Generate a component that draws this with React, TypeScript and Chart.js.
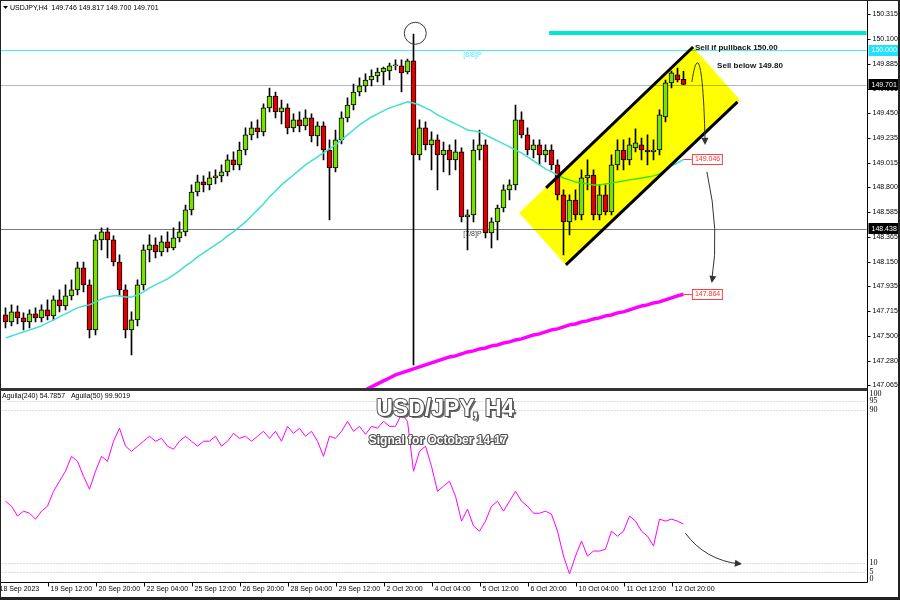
import React, { useEffect, useRef } from 'react';
import { Chart, registerables } from 'chart.js';
Chart.register(...registerables);

// ---------- DATA ----------
const opens = [147.683,147.622,147.710,147.657,147.622,147.692,147.657,147.727,147.675,147.815,
147.762,147.850,147.902,148.095,147.946,147.552,148.340,148.410,148.340,148.147,
147.902,147.552,147.640,147.946,148.253,148.296,148.235,148.323,148.270,148.358,
148.410,148.603,148.760,148.848,148.822,148.883,148.901,148.936,149.041,148.997,
149.128,149.260,149.321,149.286,149.496,149.601,149.461,149.496,149.321,149.391,
149.339,149.409,149.251,149.339,149.128,148.971,149.216,149.409,149.522,149.636,
149.689,149.741,149.776,149.811,149.820,149.864,149.864,149.811,149.908,149.085,
149.321,149.172,149.216,149.085,149.128,149.041,149.111,148.541,148.559,149.128,
149.172,148.401,148.498,148.620,148.778,148.822,149.391,149.260,149.128,149.172,
149.085,149.128,148.997,148.734,148.498,148.690,148.559,148.883,148.909,148.559,
148.734,148.585,148.997,149.128,149.041,149.146,149.172,149.128,149.111,149.128,
149.417,149.715,149.785,149.746];
const highs = [147.745,147.771,147.762,147.701,147.727,147.745,147.771,147.815,147.850,147.902,
147.946,147.990,148.147,148.147,147.990,148.384,148.445,148.445,148.375,148.209,
147.946,147.710,147.990,148.296,148.384,148.358,148.375,148.410,148.445,148.498,
148.646,148.822,148.909,148.901,148.936,148.953,148.997,149.085,149.111,149.198,
149.321,149.374,149.391,149.531,149.671,149.636,149.566,149.531,149.444,149.461,
149.479,149.444,149.374,149.374,149.216,149.303,149.461,149.584,149.706,149.759,
149.794,149.829,149.846,149.855,149.890,149.917,149.917,149.925,150.144,149.391,
149.374,149.286,149.260,149.198,149.172,149.216,149.146,148.603,149.216,149.303,
149.216,148.533,148.646,148.822,148.866,149.522,149.461,149.321,149.216,149.216,
149.172,149.172,149.041,148.778,148.734,148.778,148.953,149.041,148.953,148.822,
148.822,149.085,149.216,149.216,149.233,149.312,149.233,149.260,149.216,149.479,
149.741,149.820,149.846,149.817];
const lows = [147.569,147.587,147.604,147.552,147.569,147.622,147.622,147.640,147.640,147.710,
147.727,147.815,147.858,147.885,147.482,147.508,148.253,148.183,148.112,147.850,
147.482,147.333,147.587,147.902,148.147,148.183,148.200,148.235,148.253,148.323,
148.375,148.559,148.725,148.760,148.778,148.831,148.848,148.901,148.953,148.953,
149.085,149.216,149.233,149.251,149.461,149.409,149.356,149.268,149.286,149.286,
149.303,149.198,149.163,149.041,148.515,148.936,149.181,149.374,149.479,149.601,
149.636,149.689,149.724,149.698,149.741,149.829,149.636,149.794,147.245,149.041,
149.128,148.953,148.778,148.936,148.909,148.953,148.498,148.253,148.498,149.041,
148.358,148.270,148.340,148.585,148.690,148.778,149.233,149.085,149.058,148.997,
149.023,148.953,148.690,148.209,148.384,148.515,148.515,148.778,148.515,148.515,
148.559,148.559,148.953,148.953,148.997,149.111,149.041,148.997,149.041,149.085,
149.374,149.671,149.724,149.700];
const closes = [147.622,147.710,147.657,147.622,147.692,147.657,147.727,147.675,147.815,147.762,
147.850,147.902,148.095,147.946,147.552,148.340,148.410,148.340,148.147,147.902,
147.552,147.640,147.946,148.253,148.296,148.235,148.323,148.270,148.358,148.410,
148.603,148.760,148.848,148.822,148.883,148.901,148.936,149.041,148.997,149.128,
149.260,149.321,149.286,149.496,149.601,149.461,149.496,149.321,149.391,149.339,
149.409,149.251,149.339,149.128,148.971,149.216,149.409,149.522,149.636,149.689,
149.741,149.776,149.811,149.846,149.864,149.873,149.803,149.908,149.085,149.321,
149.172,149.216,149.085,149.128,149.041,149.111,148.541,148.559,149.128,149.172,
148.401,148.498,148.620,148.778,148.822,149.391,149.260,149.128,149.172,149.085,
149.128,148.997,148.734,148.498,148.690,148.559,148.883,148.909,148.559,148.734,
148.585,148.997,149.128,149.041,149.172,149.190,149.128,149.111,149.128,149.435,
149.715,149.803,149.741,149.701];
const maFast = [147.482,147.499,147.517,147.534,147.552,147.569,147.587,147.613,147.640,147.666,
147.692,147.718,147.745,147.762,147.771,147.797,147.823,147.841,147.850,147.850,
147.841,147.841,147.858,147.885,147.920,147.946,147.972,147.999,148.034,148.069,
148.112,148.147,148.191,148.226,148.261,148.296,148.331,148.375,148.410,148.454,
148.498,148.550,148.603,148.655,148.717,148.769,148.822,148.866,148.909,148.953,
148.997,149.032,149.067,149.102,149.137,149.172,149.216,149.260,149.303,149.347,
149.382,149.417,149.444,149.470,149.496,149.514,149.531,149.549,149.540,149.522,
149.496,149.470,149.435,149.409,149.382,149.356,149.330,149.303,149.295,149.286,
149.260,149.233,149.207,149.181,149.155,149.128,149.102,149.067,149.032,148.997,
148.962,148.936,148.909,148.883,148.866,148.848,148.839,148.831,148.822,148.822,
148.831,148.839,148.848,148.857,148.866,148.874,148.883,148.892,148.901,148.918,
148.953,148.988,149.014,149.046];
const maSlowVisible = [146.895,146.930,146.965,147.000,147.026,147.053,147.079,147.105,147.131,147.158,
147.175,147.193,147.210,147.228,147.245,147.263,147.280,147.298,147.315,147.324,
147.342,147.359,147.368,147.385,147.394,147.412,147.420,147.438,147.447,147.464,
147.473,147.491,147.508,147.517,147.534,147.552,147.561,147.578,147.596,147.604,
147.622,147.631,147.648,147.657,147.675,147.683,147.701,147.710,147.727,147.745,
147.762,147.771,147.788,147.797,147.815,147.832,147.850,147.864];
const maSlow: (number | null)[] = [...new Array(opens.length - maSlowVisible.length).fill(null), ...maSlowVisible];
const aguila = [42.3,39.7,34.5,37.1,36.0,32.9,37.1,39.7,47.5,52.8,
58.0,65.8,63.2,55.4,48.6,58.0,65.8,63.2,73.7,80.5,
71.1,68.4,71.1,73.7,76.3,73.7,75.2,71.1,69.5,73.7,
76.3,73.7,71.1,73.7,73.7,76.3,71.1,73.7,77.8,75.2,
76.3,73.7,76.3,78.9,75.2,78.9,73.7,81.5,77.8,80.5,
76.3,78.9,73.7,65.8,76.3,75.2,78.9,84.1,78.9,81.5,
77.3,81.5,80.5,84.1,81.5,81.5,88.0,84.1,58.0,68.4,
71.1,60.6,47.5,50.2,52.8,44.9,31.9,38.1,29.3,26.6,
31.9,39.7,42.3,37.1,42.3,47.5,42.3,39.7,36.0,36.0,
37.1,35.5,26.6,13.6,4.2,13.6,21.4,13.6,16.2,16.2,
17.2,26.6,24.0,26.6,34.5,31.9,26.6,24.0,18.8,32.9,
31.9,32.9,31.9,30.3];

const SLOTS = 144;
const slotLabels = Array.from({ length: SLOTS }, (_, i) => String(i));
const timeTickIndex = [-1.5, 7, 15, 23, 31, 39, 47, 55, 63, 71, 79, 87, 95, 103, 111];
const timeTickLabels = ['18 Sep 2023', '19 Sep 12:00', '20 Sep 20:00', '22 Sep 04:00', '25 Sep 12:00', '26 Sep 20:00', '28 Sep 04:00', '29 Sep 12:00', '2 Oct 20:00', '4 Oct 04:00', '5 Oct 12:00', '6 Oct 20:00', '10 Oct 04:00', '11 Oct 12:00', '12 Oct 20:00'];
const priceTicks = [150.315, 150.100, 149.885, 149.665, 149.450, 149.235, 149.015, 148.800, 148.585, 148.365, 148.150, 147.935, 147.715, 147.500, 147.280, 147.065];
const indTicks = [100, 95, 90, 10, 5, 0];
const indGrid = [95, 90, 10, 5];

const PRICE_MIN = 147.043;
const PRICE_MAX = 150.424;
const LEVEL_88 = 150.000;
const LEVEL_78 = 148.438;
const LAST_PRICE = 149.701;
const sellZone = { from: 90.6, top: 150.170, bottom: 150.135 };
const channelPoly: [number, number][] = [[85.6, 148.577], [93.4, 148.121], [122.4, 149.566], [114.6, 150.030]];
const channelUpper: [number, number][] = [[90.1, 148.796], [114.6, 150.030]];
const channelLower: [number, number][] = [[93.4, 148.121], [122.0, 149.549]];
const spikeCircle = { i: 68.3, p: 150.150 };
const arrow1: [number, number][] = [[114.4, 149.724], [115.3, 150.048], [116.3, 149.917], [116.6, 149.19]];
const arrow2: [number, number][] = [[116.9, 148.936], [119.1, 148.42], [117.7, 147.981]];
const arrowInd: [number, number][] = [[113.3, 25.6], [116.6, 11.5], [122.4, 9.4]];

const BULL = '#7ae000';
const BEAR = '#e00000';

function arrowHead(ctx: CanvasRenderingContext2D, x: number, y: number, ang: number) {
  const L = 7, W = 3.5;
  ctx.beginPath();
  ctx.moveTo(x, y);
  ctx.lineTo(x - L * Math.cos(ang) + W * Math.sin(ang), y - L * Math.sin(ang) - W * Math.cos(ang));
  ctx.lineTo(x - L * Math.cos(ang) - W * Math.sin(ang), y - L * Math.sin(ang) + W * Math.cos(ang));
  ctx.closePath();
  ctx.fill();
}

function priceBox(ctx: CanvasRenderingContext2D, x: number, y: number, text: string, bg: string, fg: string, border?: string) {
  ctx.font = '7px "Liberation Sans"';
  const w = 31, h = 11;
  ctx.fillStyle = bg;
  ctx.fillRect(x, Math.round(y - h / 2), w, h);
  if (border) {
    ctx.strokeStyle = border;
    ctx.lineWidth = 1;
    ctx.strokeRect(x + 0.5, Math.round(y - h / 2) + 0.5, w - 1, h - 1);
  }
  ctx.fillStyle = fg;
  ctx.textAlign = 'left';
  ctx.textBaseline = 'middle';
  ctx.fillText(text, x + 3, Math.round(y) + 0.5);
}

export default function App() {
  const topRef = useRef<HTMLCanvasElement>(null);
  const botRef = useRef<HTMLCanvasElement>(null);

  useEffect(() => {
    document.body.style.margin = '0';
    const bodyData = opens.map((o, i) => {
      const c = closes[i];
      let lo = Math.min(o, c), hi = Math.max(o, c);
      if (hi - lo < 0.006) { const m = (hi + lo) / 2; lo = m - 0.003; hi = m + 0.003; }
      return [lo, hi];
    });
    const wickData = lows.map((l, i) => [l, highs[i]]);
    const bodyColors = opens.map((o, i) => (closes[i] >= o ? BULL : BEAR));

    const topPlugin = {
      id: 'topDecor',
      beforeDraw(chart: any) {
        const ctx = chart.ctx;
        ctx.save();
        ctx.fillStyle = '#fff';
        ctx.fillRect(0, 0, chart.width, chart.height);
        ctx.restore();
      },
      beforeDatasetsDraw(chart: any) {
        const ctx: CanvasRenderingContext2D = chart.ctx;
        const ca = chart.chartArea;
        const X = (i: number) => chart.scales.x.getPixelForValue(i);
        const Y = (p: number) => chart.scales.y.getPixelForValue(p);
        ctx.save();
        // sell zone
        ctx.fillStyle = '#00e8d2';
        const zt = Y(sellZone.top), zb = Y(sellZone.bottom);
        ctx.fillRect(X(sellZone.from), zt, ca.right - X(sellZone.from), zb - zt);
        // levels
        const hline = (p: number, col: string) => {
          const y = Math.round(Y(p)) + 0.5;
          ctx.strokeStyle = col; ctx.lineWidth = 1;
          ctx.beginPath(); ctx.moveTo(ca.left - 3, y); ctx.lineTo(ca.right, y); ctx.stroke();
        };
        hline(LEVEL_88, '#46eefa');
        hline(LAST_PRICE, '#aeb8c8');
        hline(LEVEL_78, '#7a7a7a');
        ctx.font = '7px "Liberation Sans"';
        ctx.textAlign = 'left';
        ctx.textBaseline = 'top';
        ctx.fillStyle = '#52e6f6';
        ctx.fillText('[8/8]P', X(76.3), Math.round(Y(LEVEL_88)) + 2);
        ctx.fillStyle = '#404040';
        ctx.fillText('[7/8]P', X(76.3), Math.round(Y(LEVEL_78)) + 2);
        ctx.restore();
      },
      afterDatasetsDraw(chart: any) {
        const ctx: CanvasRenderingContext2D = chart.ctx;
        const ca = chart.chartArea;
        const X = (i: number) => chart.scales.x.getPixelForValue(i);
        const Y = (p: number) => chart.scales.y.getPixelForValue(p);
        ctx.save();
        ctx.beginPath();
        ctx.rect(ca.left, ca.top, ca.right - ca.left, ca.bottom - ca.top);
        ctx.clip();
        // yellow channel (multiply so lines below tint green like MT4)
        ctx.globalCompositeOperation = 'multiply';
        ctx.fillStyle = '#ffff00';
        ctx.beginPath();
        channelPoly.forEach(([i, p], k) => (k ? ctx.lineTo(X(i), Y(p)) : ctx.moveTo(X(i), Y(p))));
        ctx.closePath();
        ctx.fill();
        ctx.globalCompositeOperation = 'source-over';
        // channel lines
        ctx.strokeStyle = '#000';
        ctx.lineWidth = 3;
        ctx.lineCap = 'butt';
        [channelUpper, channelLower].forEach((ln) => {
          ctx.beginPath();
          ctx.moveTo(X(ln[0][0]), Y(ln[0][1]));
          ctx.lineTo(X(ln[1][0]), Y(ln[1][1]));
          ctx.stroke();
        });
        // circle
        ctx.strokeStyle = '#3a3a3a';
        ctx.lineWidth = 1;
        ctx.beginPath();
        ctx.arc(X(spikeCircle.i), Y(spikeCircle.p), 11, 0, Math.PI * 2);
        ctx.stroke();
        // arrows
        ctx.strokeStyle = '#333';
        ctx.fillStyle = '#333';
        ctx.lineWidth = 1;
        const a = arrow1.map(([i, p]) => [X(i), Y(p)]);
        ctx.beginPath();
        ctx.moveTo(a[0][0], a[0][1]);
        ctx.bezierCurveTo(a[1][0], a[1][1], a[2][0], a[2][1], a[3][0], a[3][1]);
        ctx.stroke();
        arrowHead(ctx, a[3][0], a[3][1] + 2, Math.atan2(a[3][1] - a[2][1], a[3][0] - a[2][0]));
        const b = arrow2.map(([i, p]) => [X(i), Y(p)]);
        ctx.beginPath();
        ctx.moveTo(b[0][0], b[0][1]);
        ctx.quadraticCurveTo(b[1][0], b[1][1], b[2][0], b[2][1]);
        ctx.stroke();
        arrowHead(ctx, b[2][0], b[2][1] + 2, Math.atan2(b[2][1] - b[1][1], b[2][0] - b[1][0]));
        ctx.restore();

        ctx.save();
        // sell texts
        ctx.fillStyle = '#111';
        ctx.font = 'bold 8px "Liberation Sans"';
        ctx.textAlign = 'left';
        ctx.textBaseline = 'middle';
        ctx.fillText('Sell if pullback 150.00', X(114.9), Y(150.022));
        ctx.fillText('Sell below 149.80', X(118.6), Y(149.864));
        // MA value labels
        const last = opens.length - 1;
        const boxX = X(114.4);
        [[maFast[last], ''], [maSlow[last] as number, '']].forEach(([v]) => {
          const y = Y(v as number);
          ctx.strokeStyle = '#ff4040';
          ctx.lineWidth = 1;
          ctx.beginPath(); ctx.moveTo(X(last), Math.round(y) + 0.5); ctx.lineTo(boxX, Math.round(y) + 0.5); ctx.stroke();
          priceBox(ctx, boxX, y, (v as number).toFixed(3), '#fff', '#ff3030', '#ff4040');
        });
        ctx.restore();
      },
      afterDraw(chart: any) {
        const ctx: CanvasRenderingContext2D = chart.ctx;
        const ca = chart.chartArea;
        const Y = (p: number) => chart.scales.y.getPixelForValue(p);
        const axisX = Math.round(ca.right) + 0.5;
        ctx.save();
        ctx.fillStyle = '#fff';
        ctx.fillRect(axisX, 0, chart.width - axisX, chart.height);
        ctx.strokeStyle = '#000';
        ctx.lineWidth = 1;
        ctx.beginPath(); ctx.moveTo(axisX, 0); ctx.lineTo(axisX, chart.height); ctx.stroke();
        ctx.font = '7px "Liberation Sans"';
        ctx.textAlign = 'left';
        ctx.textBaseline = 'middle';
        ctx.fillStyle = '#000';
        priceTicks.forEach((p) => {
          const y = Math.round(Y(p)) + 0.5;
          ctx.beginPath(); ctx.moveTo(axisX, y); ctx.lineTo(axisX + 3, y); ctx.stroke();
          ctx.fillText(p.toFixed(3), axisX + 5, y);
        });
        priceBox(ctx, axisX + 1, Y(LEVEL_88), LEVEL_88.toFixed(3), '#22e2ff', '#fff');
        priceBox(ctx, axisX + 1, Y(LAST_PRICE), LAST_PRICE.toFixed(3), '#000', '#fff');
        priceBox(ctx, axisX + 1, Y(LEVEL_78), LEVEL_78.toFixed(3), '#000', '#fff');
        // header
        ctx.fillStyle = '#000';
        ctx.beginPath(); ctx.moveTo(3, 6); ctx.lineTo(8, 6); ctx.lineTo(5.5, 9); ctx.closePath(); ctx.fill();
        ctx.font = '7px "Liberation Sans"';
        ctx.fillText(`USDJPY,H4  ${opens[opens.length - 1].toFixed(3)} ${highs[highs.length - 1].toFixed(3)} ${lows[lows.length - 1].toFixed(3)} ${closes[closes.length - 1].toFixed(3)}`, 10, 8);
        // separator + frame
        ctx.fillStyle = '#333';
        ctx.fillRect(0, Math.round(ca.bottom), axisX, 2);
        ctx.fillStyle = '#222';
        ctx.fillRect(0, 0, chart.width, 1);
        ctx.fillRect(0, 0, 1, chart.height);
        ctx.fillRect(chart.width - 2, 0, 2, chart.height);
        ctx.restore();
      },
    };

    const top = new Chart(topRef.current!, {
      type: 'bar',
      data: {
        labels: slotLabels,
        datasets: [
          { type: 'line', data: maSlow, borderColor: '#ff00ff', borderWidth: 3.5, pointRadius: 0, tension: 0, order: 0, clip: 0 } as any,
          { type: 'line', data: maFast, borderColor: '#40e0d0', borderWidth: 1.5, pointRadius: 0, tension: 0, order: 1 } as any,
          { type: 'bar', data: bodyData, backgroundColor: bodyColors, borderColor: '#000', borderWidth: 1, borderSkipped: false, barThickness: 5, grouped: false, order: 2 } as any,
          { type: 'bar', data: wickData, backgroundColor: '#000', borderWidth: 0, barThickness: 1, grouped: false, order: 3 } as any,
        ],
      },
      options: {
        responsive: false,
        animation: false,
        events: [],
        layout: { padding: { left: 2.5, right: 33.5, top: 2, bottom: 2 } },
        plugins: { legend: { display: false }, tooltip: { enabled: false } },
        scales: {
          x: { type: 'category', offset: true, display: false },
          y: { type: 'linear', min: PRICE_MIN, max: PRICE_MAX, display: false },
        },
      },
      plugins: [topPlugin],
    });

    const botPlugin = {
      id: 'botDecor',
      beforeDraw(chart: any) {
        const ctx = chart.ctx;
        ctx.save();
        ctx.fillStyle = '#fff';
        ctx.fillRect(0, 0, chart.width, chart.height);
        ctx.restore();
      },
      beforeDatasetsDraw(chart: any) {
        const ctx: CanvasRenderingContext2D = chart.ctx;
        const ca = chart.chartArea;
        const Y = (v: number) => chart.scales.y.getPixelForValue(v);
        ctx.save();
        ctx.strokeStyle = '#b8b8b8';
        ctx.lineWidth = 1;
        ctx.setLineDash([1, 2]);
        indGrid.forEach((v) => {
          const y = Math.round(Y(v)) + 0.5;
          ctx.beginPath(); ctx.moveTo(ca.left, y); ctx.lineTo(ca.right, y); ctx.stroke();
        });
        ctx.restore();
      },
      afterDatasetsDraw(chart: any) {
        const ctx: CanvasRenderingContext2D = chart.ctx;
        const X = (i: number) => chart.scales.x.getPixelForValue(i);
        const Y = (v: number) => chart.scales.y.getPixelForValue(v);
        ctx.save();
        // titles
        ctx.textAlign = 'center';
        ctx.textBaseline = 'alphabetic';
        const shadowText = (t: string, x: number, y: number, font: string, off: number) => {
          ctx.font = font;
          ctx.fillStyle = '#6a6a6a';
          ctx.fillText(t, x + off, y + off);
          ctx.lineWidth = 2;
          ctx.strokeStyle = '#505050';
          ctx.lineJoin = 'round';
          ctx.strokeText(t, x, y);
          ctx.fillStyle = '#fff';
          ctx.fillText(t, x, y);
        };
        shadowText('USD/JPY, H4', X(73.3), Y(86.9), 'bold 23px "Liberation Sans"', 2);
        shadowText('Signal for October 14-17', X(72.1), Y(72.3), 'bold 12px "Liberation Sans"', 1.5);
        // arrow
        const a = arrowInd.map(([i, v]) => [X(i), Y(v)]);
        ctx.strokeStyle = '#333';
        ctx.fillStyle = '#333';
        ctx.lineWidth = 1;
        ctx.beginPath();
        ctx.moveTo(a[0][0], a[0][1]);
        ctx.quadraticCurveTo(a[1][0], a[1][1], a[2][0], a[2][1]);
        ctx.stroke();
        arrowHead(ctx, a[2][0] + 2, a[2][1], Math.atan2(a[2][1] - a[1][1], a[2][0] - a[1][0]));
        // header
        ctx.fillStyle = '#000';
        ctx.font = '7px "Liberation Sans"';
        ctx.textAlign = 'left';
        ctx.textBaseline = 'middle';
        ctx.fillText('Aguila(240) 54.7857   Aguila(50) 99.9019', 2, 6);
        ctx.restore();
      },
      afterDraw(chart: any) {
        const ctx: CanvasRenderingContext2D = chart.ctx;
        const ca = chart.chartArea;
        const X = (i: number) => chart.scales.x.getPixelForValue(i);
        const Y = (v: number) => chart.scales.y.getPixelForValue(v);
        const axisX = Math.round(ca.right) + 0.5;
        const bottom = Math.round(ca.bottom) + 0.5;
        ctx.save();
        ctx.fillStyle = '#fff';
        ctx.fillRect(axisX, 0, chart.width - axisX, chart.height);
        ctx.fillRect(0, bottom, chart.width, chart.height - bottom);
        ctx.strokeStyle = '#000';
        ctx.lineWidth = 1;
        ctx.beginPath(); ctx.moveTo(axisX, 0); ctx.lineTo(axisX, bottom); ctx.lineTo(0, bottom); ctx.stroke();
        ctx.fillStyle = '#000';
        ctx.font = '8px "Liberation Serif"';
        ctx.textAlign = 'left';
        ctx.textBaseline = 'middle';
        indTicks.forEach((v) => {
          ctx.fillText(String(v), axisX + 2, Math.round(Y(v)) + (v === 100 ? 3 : v === 0 ? -3 : 0));
        });
        // time axis
        ctx.font = '7px "Liberation Sans"';
        timeTickIndex.forEach((idx, k) => {
          const x = Math.round(X(idx)) + 0.5;
          ctx.beginPath(); ctx.moveTo(x, bottom); ctx.lineTo(x, bottom + 4); ctx.stroke();
          ctx.fillText(timeTickLabels[k], x + 2, bottom + 7);
        });
        // frame
        ctx.fillStyle = '#222';
        ctx.fillRect(0, 0, 1, chart.height);
        ctx.fillRect(chart.width - 2, 0, 2, chart.height);
        ctx.fillRect(0, chart.height - 3, chart.width, 3);
        ctx.fillStyle = '#333';
        ctx.fillRect(0, 0, axisX, 1);
        ctx.restore();
      },
    };

    const bot = new Chart(botRef.current!, {
      type: 'line',
      data: {
        labels: slotLabels,
        datasets: [
          { data: aguila, borderColor: '#ff00ff', borderWidth: 1, pointRadius: 0, tension: 0 },
        ],
      },
      options: {
        responsive: false,
        animation: false,
        events: [],
        layout: { padding: { left: 2.5, right: 33.5, top: 1, bottom: 18 } },
        plugins: { legend: { display: false }, tooltip: { enabled: false } },
        scales: {
          x: { type: 'category', offset: true, display: false },
          y: { type: 'linear', min: 0, max: 100, display: false },
        },
      },
      plugins: [botPlugin],
    });

    return () => { top.destroy(); bot.destroy(); };
  }, []);

  return (
    <div style={{ position: 'relative', width: 900, height: 600, background: '#fff' }}>
      <canvas ref={topRef} width={900} height={390} style={{ position: 'absolute', left: 0, top: 0 }} />
      <canvas ref={botRef} width={900} height={210} style={{ position: 'absolute', left: 0, top: 390 }} />
    </div>
  );
}
